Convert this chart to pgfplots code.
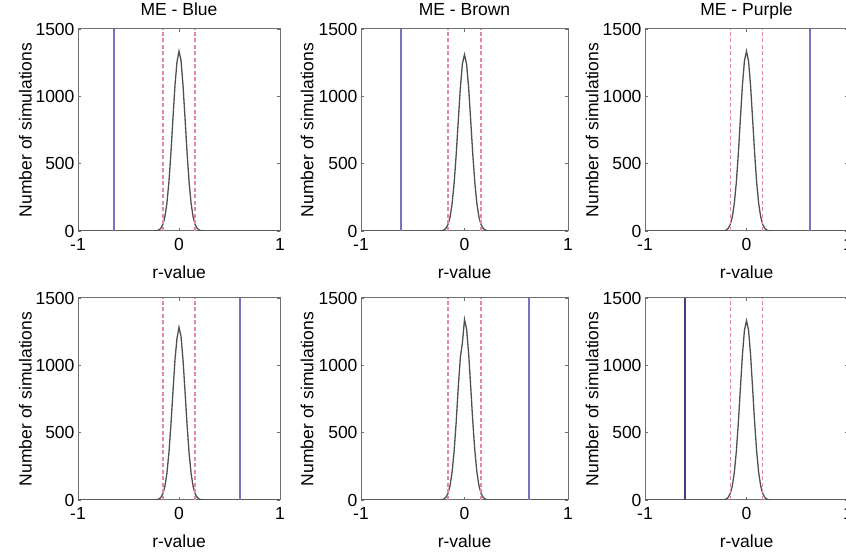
\documentclass[border=0pt]{standalone}
\usepackage{pgfplots}
\pgfplotsset{compat=1.18}
\usepackage{pgfplotstable}
\usepackage{fontspec}
\setmainfont{Liberation Sans}

\definecolor{histc}{HTML}{505050}
\definecolor{critc}{HTML}{E58A9C}
\definecolor{obsc}{HTML}{7474C2}
\definecolor{obsdark}{HTML}{404088}
\definecolor{framec}{HTML}{707070}

% simulated r-value distributions (bin centre, count)
\pgfplotstableread{
r n
-1 0
-0.26 0
-0.24 1
-0.22 2
-0.20 7
-0.18 20
-0.16 48
-0.14 104
-0.12 204
-0.10 362
-0.08 579
-0.06 833
-0.04 1080
-0.02 1255
0 1335
0.02 1268
0.04 1080
0.06 833
0.08 579
0.10 362
0.12 204
0.14 104
0.16 48
0.18 20
0.20 7
0.22 2
0.24 1
0.26 0
1 0
}\histA
\pgfplotstableread{
r n
-1 0
-0.26 0
-0.24 1
-0.22 2
-0.20 7
-0.18 20
-0.16 47
-0.14 102
-0.12 201
-0.10 357
-0.08 570
-0.06 820
-0.04 1064
-0.02 1243
0 1310
0.02 1240
0.04 1064
0.06 820
0.08 570
0.10 357
0.12 201
0.14 102
0.16 47
0.18 20
0.20 7
0.22 2
0.24 1
0.26 0
1 0
}\histB
\pgfplotstableread{
r n
-1 0
-0.26 0
-0.24 1
-0.22 2
-0.20 7
-0.18 20
-0.16 48
-0.14 104
-0.12 205
-0.10 363
-0.08 581
-0.06 836
-0.04 1084
-0.02 1266
0 1335
0.02 1262
0.04 1080
0.06 833
0.08 579
0.10 362
0.12 204
0.14 104
0.16 48
0.18 20
0.20 7
0.22 2
0.24 1
0.26 0
1 0
}\histC
\pgfplotstableread{
r n
-1 0
-0.26 0
-0.24 1
-0.22 2
-0.20 7
-0.18 19
-0.16 46
-0.14 100
-0.12 196
-0.10 348
-0.08 557
-0.06 802
-0.04 1039
-0.02 1200
0 1282
0.02 1215
0.04 1039
0.06 802
0.08 557
0.10 348
0.12 196
0.14 100
0.16 46
0.18 19
0.20 7
0.22 2
0.24 1
0.26 0
1 0
}\histD
\pgfplotstableread{
r n
-1 0
-0.26 0
-0.24 1
-0.22 2
-0.20 7
-0.18 20
-0.16 48
-0.14 105
-0.12 205
-0.10 365
-0.08 583
-0.06 840
-0.04 1060
-0.02 1170
0 1340
0.02 1270
0.04 1088
0.06 840
0.08 583
0.10 365
0.12 205
0.14 105
0.16 48
0.18 20
0.20 7
0.22 2
0.24 1
0.26 0
1 0
}\histE
\pgfplotstableread{
r n
-1 0
-0.26 0
-0.24 1
-0.22 2
-0.20 7
-0.18 20
-0.16 48
-0.14 104
-0.12 204
-0.10 362
-0.08 579
-0.06 833
-0.04 1080
-0.02 1262
0 1332
0.02 1262
0.04 1080
0.06 833
0.08 579
0.10 362
0.12 204
0.14 104
0.16 48
0.18 20
0.20 7
0.22 2
0.24 1
0.26 0
1 0
}\histF

\pgfplotsset{
  panel/.style={
    scale only axis, height=202pt,
    xmin=-1, xmax=1, ymin=0, ymax=1500,
    xtick={-1,0,1}, xticklabels={-1,0,1},
    ytick={0,500,1000,1500}, yticklabels={0,500,1000,1500},
    tick align=inside, major tick length=3pt,
    tick style={draw=framec, line width=0.5pt},
    axis line style={draw=framec, line width=1pt},
    font=\fontsize{17.5}{21}\selectfont,
    xticklabel style={yshift=-4pt},
    xlabel={r-value}, ylabel={Number of simulations},
    xlabel style={at={(axis description cs:0.5,-0.233)}, anchor=base},
    ylabel style={at={(axis description cs:-0.23,0.5)}, anchor=base},
    title style={at={(axis description cs:0.5,1.035)}, anchor=base},
  },
  histline/.style={draw=histc, line width=1.3pt, mark=none},
  critline/.style={draw=critc, line width=1.4pt, dash pattern=on 4pt off 2.5pt, mark=none},
  obsline/.style={draw=obsc, line width=2pt, mark=none},
}

\begin{document}
\begin{tikzpicture}
% top row
\begin{axis}[panel, width=202pt, at={(78pt,323pt)}, anchor=south west, title={ME - Blue}]
\addplot[histline] table[x=r,y=n] {\histA};
\addplot[critline] coordinates {(-0.16,0) (-0.16,1500)};
\addplot[critline] coordinates {(0.16,0) (0.16,1500)};
\addplot[obsline] coordinates {(-0.64,0) (-0.64,1500)};
\end{axis}
\begin{axis}[panel, width=207pt, at={(361pt,323pt)}, anchor=south west, title={ME - Brown}]
\addplot[histline] table[x=r,y=n] {\histB};
\addplot[critline] coordinates {(-0.16,0) (-0.16,1500)};
\addplot[critline] coordinates {(0.16,0) (0.16,1500)};
\addplot[obsline] coordinates {(-0.61,0) (-0.61,1500)};
\end{axis}
\begin{axis}[panel, width=203pt, at={(645pt,323pt)}, anchor=south west, title={ME - Purple}]
\addplot[histline] table[x=r,y=n] {\histC};
\addplot[critline] coordinates {(-0.16,0) (-0.16,1500)};
\addplot[critline] coordinates {(0.16,0) (0.16,1500)};
\addplot[obsline] coordinates {(0.63,0) (0.63,1500)};
\end{axis}
% bottom row
\begin{axis}[panel, width=202pt, at={(78pt,54pt)}, anchor=south west]
\addplot[histline] table[x=r,y=n] {\histD};
\addplot[critline] coordinates {(-0.16,0) (-0.16,1500)};
\addplot[critline] coordinates {(0.16,0) (0.16,1500)};
\addplot[obsline] coordinates {(0.60,0) (0.60,1500)};
\end{axis}
\begin{axis}[panel, width=207pt, at={(361pt,54pt)}, anchor=south west]
\addplot[histline] table[x=r,y=n] {\histE};
\addplot[critline] coordinates {(-0.16,0) (-0.16,1500)};
\addplot[critline] coordinates {(0.16,0) (0.16,1500)};
\addplot[obsline] coordinates {(0.62,0) (0.62,1500)};
\end{axis}
\begin{axis}[panel, width=203pt, at={(645pt,54pt)}, anchor=south west]
\addplot[histline] table[x=r,y=n] {\histF};
\addplot[critline] coordinates {(-0.16,0) (-0.16,1500)};
\addplot[critline] coordinates {(0.16,0) (0.16,1500)};
\addplot[obsline, draw=obsdark] coordinates {(-0.61,0) (-0.61,1500)};
\end{axis}
\pgfresetboundingbox
\useasboundingbox (0pt,0pt) rectangle (846pt,554pt);
\end{tikzpicture}
\end{document}
